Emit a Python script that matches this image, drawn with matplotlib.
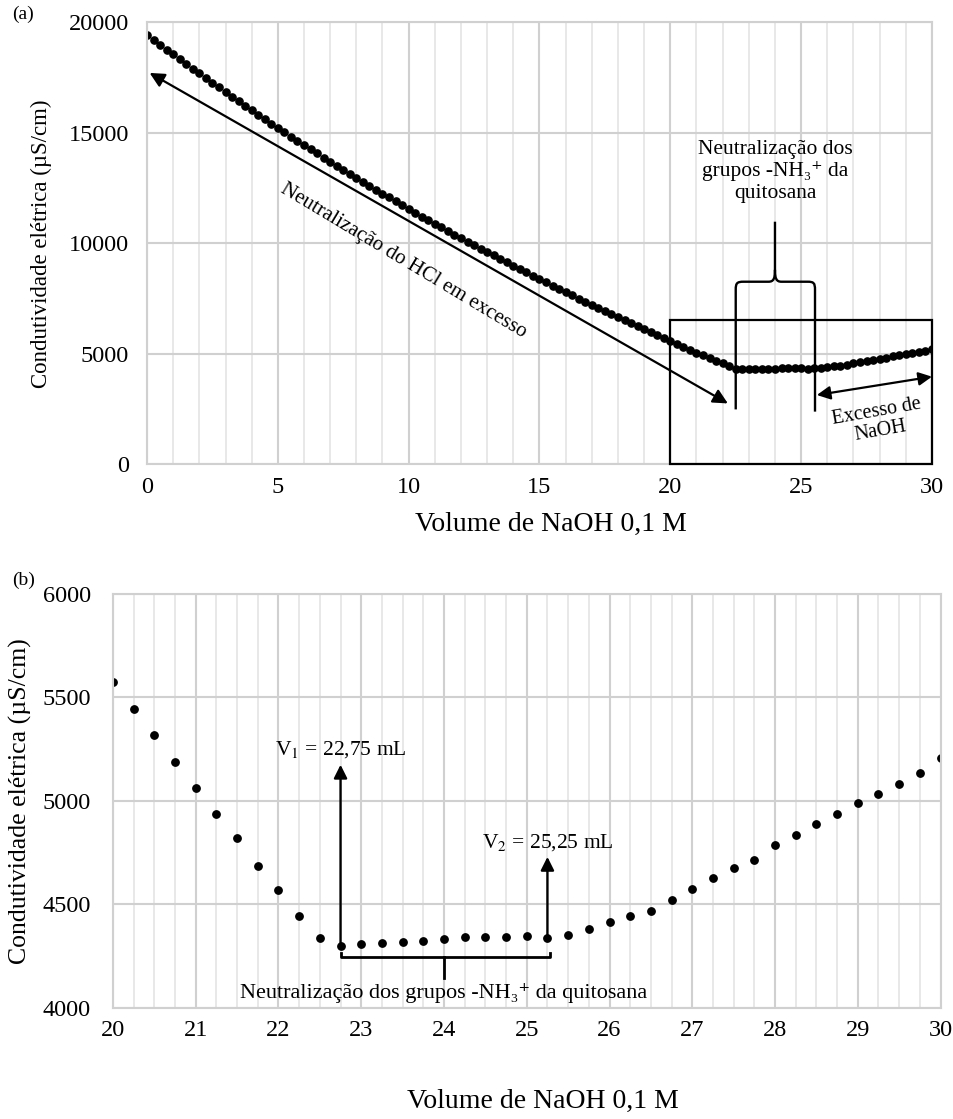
import numpy as np
import matplotlib
matplotlib.use("Agg")
import matplotlib.pyplot as plt
from matplotlib.path import Path
from matplotlib.patches import PathPatch, Rectangle
from matplotlib.ticker import MultipleLocator

plt.rcParams['font.family'] = ['Liberation Serif', 'DejaVu Serif']
plt.rcParams['mathtext.fontset'] = 'stix'

# volume de NaOH (mL), 0 a 30 em passos de 0,25
volume = [i * 0.25 for i in range(121)]

# condutividade (uS/cm)
condutividade = [
    19410, 19190, 18970, 18750, 18540, 18320, 18100, 17890, 17680, 17470,
    17260, 17050, 16840, 16630, 16420, 16220, 16010, 15810, 15600, 15400,
    15200, 15010, 14820, 14620, 14430, 14250, 14060, 13870, 13690, 13500,
    13320, 13140, 12960, 12780, 12600, 12420, 12240, 12070, 11890, 11720,
    11540, 11370, 11210, 11040, 10880, 10720, 10550, 10390, 10230, 10070,
    9920, 9760, 9600, 9450, 9290, 9140, 8990, 8840, 8690, 8540,
    8390, 8240, 8090, 7940, 7800, 7650, 7500, 7360, 7220, 7080,
    6940, 6800, 6660, 6520, 6380, 6250, 6110, 5980, 5840, 5710,
    5573, 5443, 5319, 5187, 5061, 4937, 4820, 4688, 4568, 4443,
    4337, 4300, 4308, 4313, 4319, 4325, 4332, 4341, 4341, 4341,
    4348, 4337, 4354, 4383, 4414, 4443, 4467, 4520, 4573, 4626,
    4675, 4717, 4789, 4836, 4889, 4937, 4990, 5032, 5081, 5134, 5206,
]

V1 = 22.75
V2 = 25.25

MAJ = '#d0d0d0'
MIN = '#e6e6e6'
NH3 = '-NH₃⁺'


def style_axes(ax, xmaj, xmin, ymaj, ytick_pad, xtick_pad):
    ax.xaxis.set_major_locator(MultipleLocator(xmaj))
    ax.xaxis.set_minor_locator(MultipleLocator(xmin))
    ax.yaxis.set_major_locator(MultipleLocator(ymaj))
    ax.grid(which='major', axis='both', color=MAJ, lw=1.5)
    ax.grid(which='minor', axis='x', color=MIN, lw=1.3)
    ax.set_axisbelow(True)
    for s in ax.spines.values():
        s.set_color(MAJ)
        s.set_linewidth(1.5)
    ax.tick_params(which='both', length=0, labelsize=17.5)
    ax.tick_params(axis='y', pad=ytick_pad)
    ax.tick_params(axis='x', pad=xtick_pad)


fig = plt.figure(figsize=(9.54, 11.19), dpi=100)

# ---------------- (a) ----------------
ax1 = fig.add_axes([0.1541, 0.5849, 0.8228, 0.3954])
ax1.plot(volume, condutividade, 'o', color='black', ms=5.2)
ax1.set_xlim(0, 30)
ax1.set_ylim(0, 20000)
style_axes(ax1, 5, 1, 5000, 13, 9)
ax1.set_xlabel('Volume de NaOH 0,1 M', fontsize=20)
ax1.set_ylabel('Condutividade elétrica (µS/cm)', fontsize=16.5)
ax1.xaxis.set_label_coords(0.515, -0.108)
ax1.yaxis.set_label_coords(-0.121, 0.5)

ax1.annotate('', xy=(0.1, 17700), xytext=(22.2, 2760),
             arrowprops=dict(arrowstyle='<|-|>', color='black', lw=1.6,
                             mutation_scale=22, shrinkA=0, shrinkB=0))
ax1.text(9.8, 9200, 'Neutralização do HCl em excesso', rotation=-31,
         ha='center', va='center', rotation_mode='anchor', fontsize=15)

ax1.add_patch(Rectangle((20, 0), 10, 6550, fill=False, ec='black', lw=1.6,
                        clip_on=False, zorder=4))

brace = [
    (Path.MOVETO, (22.5, 2490)), (Path.LINETO, (22.5, 7900)),
    (Path.CURVE4, (22.5, 8200)), (Path.CURVE4, (22.55, 8262)), (Path.CURVE4, (22.8, 8262)),
    (Path.LINETO, (23.75, 8262)),
    (Path.CURVE4, (23.95, 8262)), (Path.CURVE4, (24.0, 8400)), (Path.CURVE4, (24.0, 8800)),
    (Path.LINETO, (24.0, 10975)),
    (Path.MOVETO, (24.0, 8800)),
    (Path.CURVE4, (24.0, 8400)), (Path.CURVE4, (24.05, 8262)), (Path.CURVE4, (24.25, 8262)),
    (Path.LINETO, (25.25, 8262)),
    (Path.CURVE4, (25.48, 8262)), (Path.CURVE4, (25.53, 8200)), (Path.CURVE4, (25.53, 7900)),
    (Path.LINETO, (25.53, 2390)),
]
codes, verts = zip(*brace)
ax1.add_patch(PathPatch(Path(verts, codes), fill=False, ec='black', lw=1.7, zorder=5))
ax1.text(24.0, 13250, 'Neutralização dos\ngrupos ' + NH3 + ' da\nquitosana',
         ha='center', va='center', fontsize=15.5, linespacing=1.15)

ax1.annotate('', xy=(30.0, 3970), xytext=(25.6, 3140),
             arrowprops=dict(arrowstyle='<|-|>', color='black', lw=1.6,
                             mutation_scale=20, shrinkA=0, shrinkB=0))
ax1.text(27.95, 1950, 'Excesso de\nNaOH', rotation=10, ha='center', va='center',
         rotation_mode='anchor', fontsize=14.5, linespacing=1.1)

fig.text(12 / 954, 1 - 14 / 1119, '(a)', fontsize=14, va='center', ha='left')

# ---------------- (b) ----------------
vb = [v for v in volume if v >= 20]
cb = condutividade[len(volume) - len(vb):]

ax2 = fig.add_axes([0.1184, 0.0992, 0.8675, 0.3700])
ax2.plot(vb, cb, 'o', color='black', ms=5.3)
ax2.set_xlim(20, 30)
ax2.set_ylim(4000, 6000)
style_axes(ax2, 1, 0.25, 500, 16, 9)
ax2.set_xlabel('Volume de NaOH 0,1 M', fontsize=20)
ax2.set_ylabel('Condutividade elétrica (µS/cm)', fontsize=18.5)
ax2.xaxis.set_label_coords(0.52, -0.195)
ax2.yaxis.set_label_coords(-0.098, 0.5)

ax2.annotate('', xy=(V1, 5175), xytext=(V1, 4290),
             arrowprops=dict(arrowstyle='-|>', color='black', lw=1.7,
                             mutation_scale=20, shrinkA=0, shrinkB=0))
ax2.text(V1, 5250, 'V$_1$ = 22,75 mL', ha='center', va='center', fontsize=15.5)
ax2.annotate('', xy=(V2, 4730), xytext=(V2, 4330),
             arrowprops=dict(arrowstyle='-|>', color='black', lw=1.7,
                             mutation_scale=20, shrinkA=0, shrinkB=0))
ax2.text(V2, 4797, 'V$_2$ = 25,25 mL', ha='center', va='center', fontsize=15.5)

ax2.plot([V1, V1, V2 + 0.03, V2 + 0.03], [4268, 4245, 4245, 4268], color='black', lw=2)
ax2.plot([24.0, 24.0], [4245, 4143], color='black', lw=2)
ax2.text(24.0, 4072, 'Neutralização dos grupos ' + NH3 + ' da quitosana',
         ha='center', va='center', fontsize=16)

fig.text(12 / 954, 1 - 580 / 1119, '(b)', fontsize=14, va='center', ha='left')

fig.savefig('out.png', dpi=100)
